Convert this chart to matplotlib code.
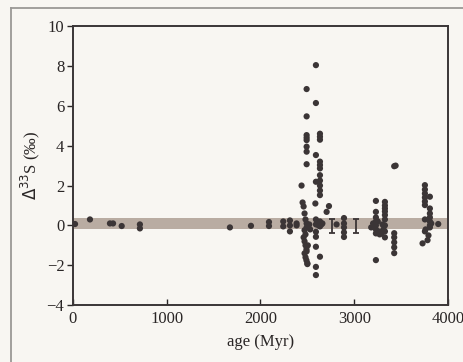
import matplotlib
matplotlib.use("Agg")
import matplotlib.pyplot as plt

# ---- data: (age Myr, Delta33S permil) ----
young_pts = [(25, 0.07), (184, 0.3), (397, 0.1), (430, 0.1), (522, -0.03),
             (716, 0.05), (716, -0.15), (1675, -0.1), (1899, -0.02),
             (2091, 0.17), (2091, -0.03), (2243, 0.2), (2243, -0.05),
             (2314, 0.25), (2314, 0.0), (2314, -0.3), (2385, 0.1), (2385, 0.0)]
neoarch_a = [(2438, 2.0), (2449, 1.15), (2460, 0.95), (2470, 0.6), (2480, 0.3),
             (2492, 6.84), (2492, 5.47), (2492, 4.53), (2492, 4.4), (2492, 4.28),
             (2492, 3.95), (2492, 3.7), (2492, 3.07), (2492, 0.1), (2492, -0.1),
             (2470, -0.24), (2480, -0.45), (2460, -0.6), (2470, -0.8), (2480, -1.0),
             (2490, -1.2), (2470, -1.4), (2480, -1.6), (2490, -1.75), (2500, -1.9),
             (2505, -1.0), (2492, -1.3), (2500, -1.94), (2510, 0.0), (2520, 0.05),
             (2530, -0.2)]
neoarch_b = [(2591, 8.04), (2591, 6.14), (2591, 3.53), (2591, 2.19), (2585, 1.1),
             (2591, 0.3), (2591, 0.05), (2591, -0.32), (2591, -0.57), (2591, -1.07),
             (2591, -2.08), (2591, -2.49),
             (2634, 4.6), (2634, 4.45), (2634, 4.3), (2634, 3.2), (2634, 3.03),
             (2634, 2.86), (2634, 2.52), (2634, 2.25), (2634, 2.0), (2634, 1.75),
             (2634, 1.52), (2634, 0.2), (2634, -1.57), (2610, 0.1), (2620, 0.0),
             (2650, 0.05), (2660, 0.1), (2634, -0.05)]
mid_pts = [(2705, 0.68), (2730, 0.97), (2811, 0.05), (2890, 0.37), (2890, 0.1),
           (2890, -0.1), (2890, -0.35), (2890, -0.58)]
paleo_pts = [(3230, 1.23), (3230, 0.68), (3230, 0.4), (3230, 0.2), (3230, 0.0),
             (3230, -0.2), (3230, -0.4), (3180, -0.1), (3200, 0.1), (3215, 0.0),
             (3250, 0.2), (3260, -0.3), (3270, -0.45), (3290, -0.4), (3230, -1.74),
             (3326, 1.18), (3326, 1.0), (3326, 0.85), (3326, 0.7), (3326, 0.52),
             (3326, 0.3), (3326, 0.0), (3326, -0.3), (3326, -0.6), (3300, 0.05),
             (3310, -0.2), (3280, -0.35),
             (3425, 2.97), (3440, 3.0), (3425, -0.39), (3425, -0.6), (3425, -0.85),
             (3425, -1.1), (3425, -1.39)]
eoarch_pts = [(3752, 2.02), (3752, 1.8), (3752, 1.6), (3752, 1.4), (3752, 1.2),
              (3752, 1.02), (3752, 0.3), (3752, -0.3), (3805, 1.44), (3805, 0.85),
              (3805, 0.6), (3805, 0.4), (3805, 0.2), (3805, 0.0), (3805, -0.1),
              (3727, -0.9), (3780, -0.74), (3760, -0.2), (3790, -0.5), (3820, 0.1),
              (3894, 0.07)]
err_age = [2758, 3017]
err_val = [-0.05, -0.05]
err_size = [0.35, 0.35]
band_low, band_high = -0.2, 0.35

xticks = [0, 1000, 2000, 3000, 4000]
yticks = [-4, -2, 0, 2, 4, 6, 8, 10]

all_pts = young_pts + neoarch_a + neoarch_b + mid_pts + paleo_pts + eoarch_pts
age = [p[0] for p in all_pts]
d33 = [p[1] for p in all_pts]

plt.rcParams['font.family'] = ['Liberation Serif', 'DejaVu Serif']
bg = '#f8f6f2'
ink = '#2a2626'
fig = plt.figure(figsize=(4.63, 3.62), dpi=100, facecolor=bg)
ax = fig.add_axes([0.157, 0.157, 0.811, 0.771], facecolor=bg)

ax.axhspan(band_low, band_high, color='#b9aca2', zorder=1, lw=0)
ax.scatter(age, d33, s=20, color='#3b3536', zorder=3, edgecolors='none')
ax.errorbar(err_age, err_val, yerr=err_size, fmt='none', ecolor='#3b3536',
            elinewidth=1.3, capsize=2.5, capthick=1.3, zorder=3)

ax.set_xlim(0, 4000)
ax.set_ylim(-4, 10)
ax.set_xticks(xticks)
ax.set_yticks(yticks)
ax.set_yticklabels([str(t).replace('-', '\u2212') for t in yticks])
ax.tick_params(axis='both', labelsize=12, colors=ink, width=1.0)
ax.tick_params(axis='y', direction='out', length=4, pad=2)
ax.tick_params(axis='x', direction='in', length=4, pad=4)
for s in ax.spines.values():
    s.set_color('#3a3536')
    s.set_linewidth(1.4)
ax.set_xlabel('age (Myr)', fontsize=12, color=ink, labelpad=5)
ax.set_ylabel(r'$\mathit{\Delta}^{33}$S (‰)', fontsize=12, color=ink, labelpad=3)

# outer frame (scan border)
fig.add_artist(plt.Line2D([11/463, 11/463], [0, 1 - 8/362], color='#9a9896', lw=1.3,
                          transform=fig.transFigure))
fig.add_artist(plt.Line2D([11/463, 1], [1 - 8/362, 1 - 8/362], color='#9a9896', lw=1.3,
                          transform=fig.transFigure))

fig.savefig('out.png', dpi=100, facecolor=bg)
